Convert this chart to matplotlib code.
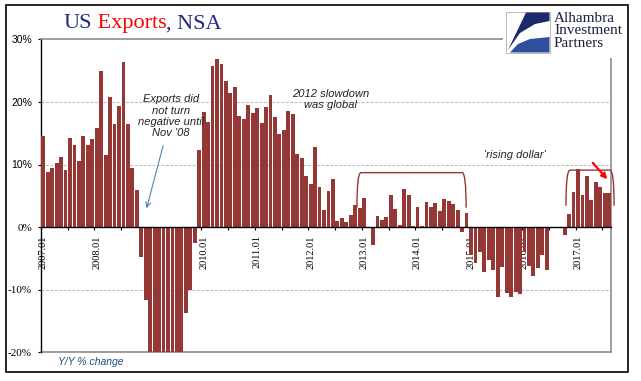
import numpy as np
import matplotlib.pyplot as plt
from matplotlib.patches import Rectangle, PathPatch, FancyArrowPatch, Polygon
from matplotlib.path import Path

# Y/Y % change of US exports (NSA), monthly, 2007.01 - 2017.08
y2007 = [14.6, 8.8, 9.5, 10.3, 11.2, 9.1, 14.3, 13.1, 10.6, 14.6, 13.1, 14.0]
y2008 = [15.8, 24.9, 11.5, 20.8, 16.5, 19.3, 26.4, 16.5, 9.5, 5.9, -4.7, -11.6]
y2009 = [-20.0, -20.0, -20.0, -20.0, -20.0, -20.0, -20.0, -20.0, -13.8, -10.1, -2.5, 12.3]
y2010 = [18.4, 16.8, 25.8, 26.8, 26.1, 23.3, 21.5, 22.4, 17.8, 17.2, 19.5, 18.2]
y2011 = [19.0, 16.6, 19.2, 21.1, 17.6, 14.9, 15.5, 18.6, 18.0, 11.7, 11.1, 8.1]
y2012 = [6.9, 12.8, 6.4, 2.8, 5.8, 7.7, 1.0, 1.5, 0.85, 2.0, 3.6, 3.0]
y2013 = [4.6, 0.0, -2.8, 1.8, 1.1, 1.6, 5.2, 2.9, 0.4, 6.1, 5.1, 0.2]
y2014 = [3.2, 0.2, 4.0, 3.2, 3.9, 2.6, 4.5, 4.2, 3.7, 2.8, -0.85, 2.3]
y2015 = [-4.5, -5.8, -4.0, -7.2, -5.3, -6.9, -11.1, -6.4, -10.5, -11.1, -10.4, -10.7]
y2016 = [-4.0, -6.2, -7.8, -6.6, -4.4, -6.8, 0.0, 0.0, -0.2, -1.3, 2.1, 5.6]
y2017 = [9.3, 5.2, 8.2, 4.4, 7.2, 6.4, 5.5, 5.5]

years = list(range(2007, 2018))
year_labels = ["%d.01" % y for y in years]
y_ticks = [-20, -10, 0, 10, 20, 30]

BAR = "#953735"
NAVY = "#1C2A80"
W, H = 641, 381


def pfig(x, y):
    # pixel position -> figure fraction
    return x / W, 1 - y / H


values = np.array(y2007 + y2008 + y2009 + y2010 + y2011 + y2012
                  + y2013 + y2014 + y2015 + y2016 + y2017)
months = np.arange(len(values))

fig = plt.figure(figsize=(W / 100, H / 100), dpi=100)
fig.patch.set_facecolor("white")
ax = fig.add_axes([41 / W, 1 - 352.3 / H, (611.4 - 41) / W, (352.3 - 39.3) / H])

ax.bar(months, values, width=0.86, color=BAR, zorder=3)
ax.set_xlim(-0.5, len(values) - 0.5)
ax.set_ylim(-20, 30)

# grid and frame
for g in [10, 20, -10]:
    ax.axhline(g, color="#BDBDBD", lw=0.8, ls=(0, (2.5, 1.5)), zorder=1)
ax.axhline(-20, color="#8C8C8C", lw=1.2, zorder=2, clip_on=False)
ax.spines["top"].set_color("#8C8C8C")
ax.spines["top"].set_linewidth(1.2)
ax.spines["right"].set_color("#8C8C8C")
ax.spines["right"].set_linewidth(1.2)
ax.spines["left"].set_linewidth(1.0)
ax.spines["bottom"].set_position(("data", 0))
ax.spines["bottom"].set_linewidth(1.0)
ax.spines["bottom"].set_zorder(4)

# y axis
ax.set_yticks(y_ticks)
ax.set_yticklabels(["%d%%" % t for t in y_ticks])
for lab, t in zip(ax.get_yticklabels(), y_ticks):
    if t <= 0:
        lab.set_fontfamily("Liberation Serif")
        lab.set_fontsize(8)
    else:
        lab.set_fontfamily("Liberation Sans")
        lab.set_fontsize(7.5)
ax.tick_params(axis="y", direction="out", length=2.5, width=0.8, pad=4)

# x axis: tick marks every 6 months, labels on each January
ax.set_xticks(np.arange(0, len(values) + 1, 6) - 0.5)
ax.set_xticklabels([])
ax.set_xticks(np.arange(len(years)) * 12, minor=True)
ax.set_xticklabels(year_labels, minor=True, rotation=90,
                   fontfamily="Liberation Serif", fontsize=7.5)
ax.tick_params(axis="x", which="major", direction="out", length=2.5, width=0.8)
ax.tick_params(axis="x", which="minor", length=0, pad=5.8)

# annotations
ital = dict(fontfamily="Liberation Sans", style="italic", fontsize=8, color="#222222")
ax.text(28.7, 17.7, "Exports did\nnot turn\nnegative until\nNov '08",
        ha="center", va="center", linespacing=1.15, zorder=5, **ital)
ax.annotate("", xy=(23.2, 3.0), xytext=(26.9, 13.0),
            arrowprops=dict(arrowstyle="->", color="#4F81BD", lw=0.8,
                            shrinkA=0, shrinkB=0, mutation_scale=9))
ax.text(64.5, 20.4, "2012 slowdown\nwas global", ha="center", va="center",
        linespacing=1.15, zorder=5, **ital)
ax.text(105.8, 11.5, "'rising dollar'", ha="center", va="center", zorder=5, **ital)


def bracket(x0, x1, ytop, ybot, dx=0.9):
    verts = [(x0, ybot), (x0, ytop), (x0 + dx, ytop),
             (x1 - dx, ytop), (x1, ytop), (x1, ybot)]
    codes = [Path.MOVETO, Path.CURVE3, Path.CURVE3,
             Path.LINETO, Path.CURVE3, Path.CURVE3]
    ax.add_patch(PathPatch(Path(verts, codes), fill=False, edgecolor=BAR,
                           lw=1.0, zorder=5, clip_on=False))


bracket(70.4, 94.9, 8.7, 3.1)
bracket(117.3, 128.1, 9.1, 3.4)

ax.add_patch(FancyArrowPatch((122.9, 10.6), (127.0, 7.3), arrowstyle="-|>",
                             mutation_scale=8, color="red", lw=1.6,
                             zorder=6, clip_on=False))

# title in three colours
renderer = fig.canvas.get_renderer()
tx, ty = pfig(63, 28.3)
for s, c in [("US", NAVY), (" Exports", "red"), (", NSA", NAVY)]:
    t = fig.text(tx, ty, s, color=c, fontfamily="Liberation Serif",
                 fontsize=16, va="baseline", ha="left")
    tx += t.get_window_extent(renderer).width / W

fig.text(*pfig(58.3, 361.7), "Y/Y % change", fontfamily="Liberation Sans",
         style="italic", fontsize=7.5, color="#1F4E79", va="center", ha="left")

# logo
bx, by = pfig(503, 58)
fig.add_artist(Rectangle((bx, by), 123 / W, 51 / H, transform=fig.transFigure,
                         facecolor="white", edgecolor="none", zorder=10))
sx, sy = pfig(506, 53)
fig.add_artist(Rectangle((sx, sy), 44 / W, 41 / H, transform=fig.transFigure,
                         facecolor="white", edgecolor="#B0B0B0", lw=0.6, zorder=11))
top_shape = [pfig(526, 12.5), pfig(549.5, 12.5), pfig(549.5, 21), pfig(535, 24),
             pfig(520, 33), pfig(508, 50)]
low_shape = [pfig(510, 52.5), pfig(518, 44), pfig(530, 39), pfig(549.5, 37),
             pfig(549.5, 52.5)]
fig.add_artist(Polygon(top_shape, closed=True, transform=fig.transFigure,
                       facecolor="#1B2A6B", edgecolor="none", zorder=12))
fig.add_artist(Polygon(low_shape, closed=True, transform=fig.transFigure,
                       facecolor="#2E4F9E", edgecolor="none", zorder=12))
# multi-line baseline alignment anchors the last line
fig.text(*pfig(554, 46.7), "Alhambra\nInvestment\nPartners",
         fontfamily="Liberation Serif", fontsize=11, linespacing=0.92,
         color="#1A1F3C", va="baseline", ha="left", zorder=12)

# outer border
ox, oy = pfig(6, 372)
fig.add_artist(Rectangle((ox, oy), 622 / W, 367 / H, transform=fig.transFigure,
                         fill=False, edgecolor="black", lw=1.2, zorder=13))

fig.savefig("out.png", dpi=100)
